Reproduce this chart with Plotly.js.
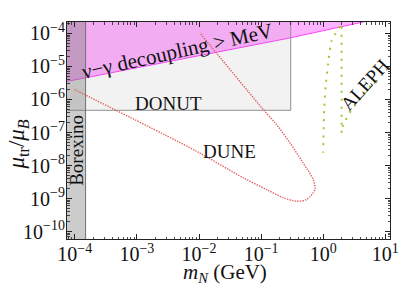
<!DOCTYPE html>
<html><head><meta charset="utf-8">
<script src="https://cdn.plot.ly/plotly-3.0.1.min.js"></script>
<style>html,body{margin:0;padding:0;background:#fff}#plot{width:399px;height:288px}</style>
</head><body><div id="plot"></div>
<script>
// Borexino excluded band (m_N < 1.49e-4 GeV)
const borexinoX = [1e-6, 1.49e-4, 1.49e-4, 1e-6];
const borexinoY = [1e-13, 1e-13, 1e-2, 1e-2];
// DONUT excluded box
const donutX = [1e-6, 0.30, 0.30, 1e-6];
const donutY = [4.7e-7, 4.7e-7, 1e-2, 1e-2];
// nu-gamma decoupling > MeV lower boundary
const decX = [6e-5, 7.9e-5, 0.30, 3.46, 16];
const decY = [3.3e-6, 3.6e-6, 7.4e-5, 2.0e-4, 3.8e-4];
// DUNE sensitivity contour
const duneX = [9.9e-5, 9.1e-3, 0.0507, 0.122, 0.224, 0.372, 0.54, 0.734, 0.69, 0.475, 0.29, 0.177, 0.108, 0.0103];
const duneY = [2.0e-6, 2.7e-8, 4.3e-9, 1.87e-9, 1.07e-9, 8.3e-10, 9.3e-10, 1.87e-9, 3.77e-9, 1.2e-8, 4.9e-8, 1.75e-7, 5e-7, 1.05e-4];
// ALEPH contours
const aleph1X = [1.86, 1.365, 1.205, 1.094, 1.038, 1.0];
const aleph1Y = [1.66e-4, 5.85e-5, 1.3e-5, 2.53e-6, 4.98e-7, 2.43e-8];
const aleph2X = [1.98, 1.98, 2.1, 2.87, 6.04, 8.75];
const aleph2Y = [1.6e-4, 9.8e-8, 1.75e-7, 5e-7, 2.85e-6, 4.07e-6];
// tick labels
const xTickVals = [1e-4, 1e-3, 1e-2, 1e-1, 1, 10];
const xTickText = ['10<sup>−4</sup>', '10<sup>−3</sup>', '10<sup>−2</sup>', '10<sup>−1</sup>', '10<sup>0</sup>', '10<sup>1</sup>'];
const yTickVals = [1e-10, 1e-9, 1e-8, 1e-7, 1e-6, 1e-5, 1e-4];
const yTickText = ['10<sup>−10</sup>', '10<sup>−9</sup>', '10<sup>−8</sup>', '10<sup>−7</sup>', '10<sup>−6</sup>', '10<sup>−5</sup>', '10<sup>−4</sup>'];

const FONT = 'Liberation Serif, Times New Roman, serif';

const traces = [
  {x: decX.concat([16, 6e-5]), y: decY.concat([1e-2, 1e-2]), type: 'scatter', mode: 'lines',
   fill: 'toself', fillcolor: 'rgba(255,0,255,0.30)', line: {color: '#ff44ff', width: 1}, hoverinfo: 'skip'},
  {x: donutX, y: donutY, type: 'scatter', mode: 'lines', fill: 'toself',
   fillcolor: 'rgba(128,128,128,0.10)', line: {color: '#909090', width: 1}, hoverinfo: 'skip'},
  {x: borexinoX, y: borexinoY, type: 'scatter', mode: 'lines', fill: 'toself',
   fillcolor: 'rgba(128,128,128,0.40)', line: {color: '#707070', width: 1}, hoverinfo: 'skip'},
  {x: duneX, y: duneY, type: 'scatter', mode: 'lines',
   line: {color: '#e06060', width: 1.4, dash: '1.4px,1.2px', shape: 'spline', smoothing: 0.8}, hoverinfo: 'skip'},
  {x: aleph1X, y: aleph1Y, type: 'scatter', mode: 'lines',
   line: {color: '#9acd32', width: 2, dash: '2px,6px', shape: 'spline', smoothing: 0.6}, hoverinfo: 'skip'},
  {x: aleph2X, y: aleph2Y, type: 'scatter', mode: 'lines',
   line: {color: '#9acd32', width: 2, dash: '2px,6px'}, hoverinfo: 'skip'}
];

const axisCommon = {
  type: 'log', showgrid: false, zeroline: false, showline: true, linecolor: '#222', linewidth: 1,
  mirror: 'allticks', ticks: 'inside', ticklen: 5, tickwidth: 1, tickcolor: '#222',
  tickmode: 'array',
  tickfont: {family: FONT, size: 20, color: '#111'},
  minor: {ticks: 'inside', ticklen: 2.5, tickwidth: 0.8, tickcolor: '#222', dtick: 'D1', showgrid: false}
};

const layout = {
  width: 399, height: 288,
  margin: {l: 67, r: 9, t: 22, b: 49},
  paper_bgcolor: '#fff', plot_bgcolor: '#fff',
  showlegend: false,
  xaxis: Object.assign({}, axisCommon, {range: [-4.126, 1.076], tickvals: xTickVals, ticktext: xTickText,
    ticklabelstandoff: -3}),
  yaxis: Object.assign({}, axisCommon, {range: [-10.227, -3.652], tickvals: yTickVals, ticktext: yTickText,
    ticklabelstandoff: -3}),
  annotations: [
    {x: 0.488, y: -0.158, xref: 'paper', yref: 'paper', xanchor: 'center', yanchor: 'middle',
     text: '<i>m</i><sub><i>N</i></sub> (GeV)', showarrow: false,
     font: {family: FONT, size: 21, color: '#111'}},
    {x: -0.152, y: 0.435, xref: 'paper', yref: 'paper', xanchor: 'center', yanchor: 'middle',
     text: '<i>μ</i><sub>tr</sub>/<i>μ</i><sub><i>B</i></sub>', showarrow: false, textangle: -90,
     font: {family: FONT, size: 23, color: '#111'}},
    {x: -2.344, y: -4.545, xref: 'x', yref: 'y', text: 'ν−γ decoupling &gt; MeV', showarrow: false,
     textangle: -12.5, font: {family: FONT, size: 21, color: '#111'}},
    {x: -2.499, y: -6.136, xref: 'x', yref: 'y', text: 'DONUT', showarrow: false,
     font: {family: FONT, size: 19, color: '#111'}},
    {x: -1.501, y: -7.567, xref: 'x', yref: 'y', text: 'DUNE', showarrow: false,
     font: {family: FONT, size: 19, color: '#111'}},
    {x: -3.968, y: -7.53, xref: 'x', yref: 'y', text: 'Borexino', showarrow: false, textangle: -90,
     font: {family: FONT, size: 19, color: '#111'}},
    {x: 0.673, y: -5.545, xref: 'x', yref: 'y', text: 'ALEPH', showarrow: false, textangle: -48,
     font: {family: FONT, size: 19, color: '#111'}}
  ]
};

Plotly.newPlot('plot', traces, layout, {staticPlot: true, displayModeBar: false});
</script>
</body></html>
